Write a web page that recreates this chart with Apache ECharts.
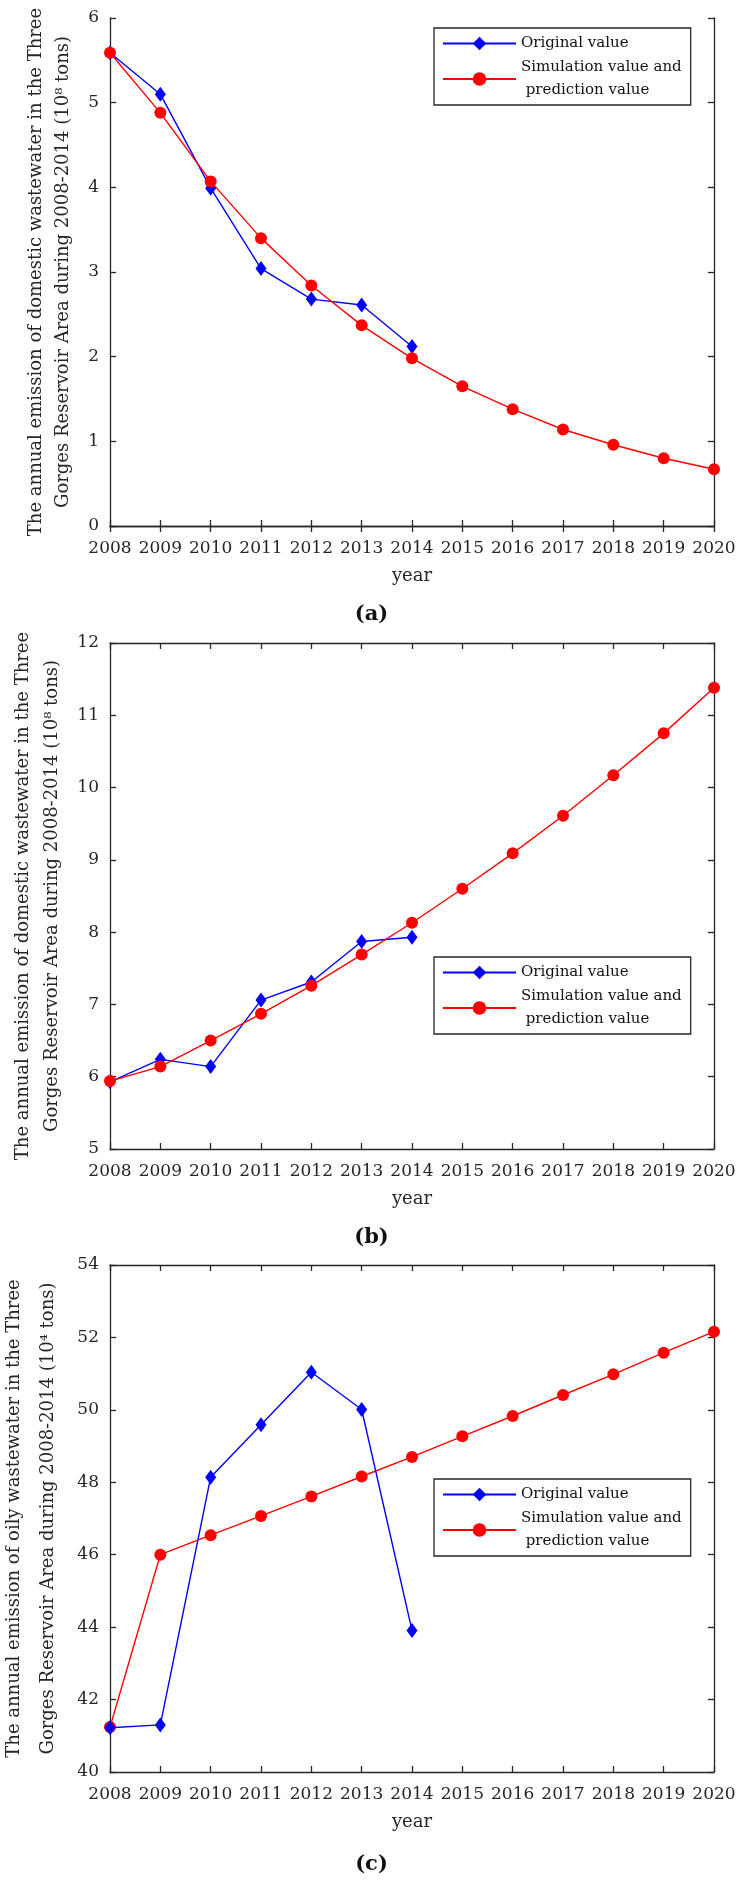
<!DOCTYPE html>
<html><head><meta charset="utf-8">
<script src="https://cdn.jsdelivr.net/npm/echarts@6/dist/echarts.min.js"></script>
<style>html,body{margin:0;padding:0;background:#fff}#c{width:743px;height:1880px}</style>
</head><body><div id="c"></div>
<script>
// ---------- data ----------
const years = [2008, 2009, 2010, 2011, 2012, 2013, 2014, 2015, 2016, 2017, 2018, 2019, 2020];
const originalYears = [2008, 2009, 2010, 2011, 2012, 2013, 2014];

const a_original   = [5.59, 5.10, 3.99, 3.04, 2.68, 2.61, 2.12];
const a_simulation = [5.59, 4.88, 4.07, 3.40, 2.84, 2.37, 1.98, 1.65, 1.38, 1.14, 0.96, 0.80, 0.67];

const b_original   = [5.93, 6.24, 6.14, 7.06, 7.31, 7.87, 7.93];
const b_simulation = [5.94, 6.14, 6.50, 6.87, 7.26, 7.69, 8.13, 8.60, 9.09, 9.61, 10.17, 10.75, 11.38];

const c_original   = [41.22, 41.30, 48.14, 49.59, 51.04, 50.01, 43.91];
const c_simulation = [41.24, 46.00, 46.54, 47.07, 47.61, 48.16, 48.70, 49.27, 49.83, 50.41, 50.98, 51.58, 52.16];

const a_yTicks = [0, 1, 2, 3, 4, 5, 6];
const b_yTicks = [5, 6, 7, 8, 9, 10, 11, 12];
const c_yTicks = [40, 42, 44, 46, 48, 50, 52, 54];

const nameOriginal = 'Original value';
const nameSim = 'Simulation value and prediction value';
const legendSimText = 'Simulation value and\n prediction value';

const a_yName = 'The annual emission of domestic wastewater in the Three\nGorges Reservoir Area during 2008-2014 (10\u2078 tons)';
const b_yName = 'The annual emission of domestic wastewater in the Three\nGorges Reservoir Area during 2008-2014 (10\u2078 tons)';
const c_yName = 'The annual emission of oily wastewater in the Three\nGorges Reservoir Area during 2008-2014 (10\u2074 tons)';
const xName = 'year';
const panelLabels = ['a', 'b', 'c'];

// ---------- layout ----------
const FONT = 'DejaVu Serif';
const AX = '#262626';
const panels = [
  {top: 18,   height: 508, orig: a_original, sim: a_simulation, ticks: a_yTicks, yName: a_yName, nameGap: 30, nameLH: 27, legendTop: 28,   labelTop: 599, simOnTop: true},
  {top: 643,  height: 506, orig: b_original, sim: b_simulation, ticks: b_yTicks, yName: b_yName, nameGap: 36, nameLH: 29, legendTop: 957,  labelTop: 1222, simOnTop: true},
  {top: 1265, height: 507, orig: c_original, sim: c_simulation, ticks: c_yTicks, yName: c_yName, nameGap: 45, nameLH: 34, legendTop: 1479, labelTop: 1849, simOnTop: false}
];

const grid = [], xAxis = [], yAxis = [], series = [], legend = [], title = [];
const lineSt = {color: AX, width: 1.3};

panels.forEach((p, i) => {
  grid.push({left: 110, right: 29, top: p.top, height: p.height, containLabel: false, outerBoundsMode: 'none'});
  const ymin = p.ticks[0], ymax = p.ticks[p.ticks.length - 1], yint = p.ticks[1] - p.ticks[0];
  xAxis.push({
    gridIndex: i, type: 'value', min: years[0], max: years[years.length - 1], interval: 1, position: 'bottom',
    axisLine: {show: true, lineStyle: lineSt},
    axisTick: {show: true, inside: true, length: 6, lineStyle: lineSt},
    axisLabel: {margin: 14, fontSize: 17, fontFamily: FONT, color: AX, formatter: v => String(v)},
    splitLine: {show: false},
    name: xName, nameLocation: 'middle', nameGap: 41,
    nameTextStyle: {fontSize: 18, fontFamily: FONT, color: AX}
  });
  xAxis.push({
    gridIndex: i, type: 'value', min: years[0], max: years[years.length - 1], interval: 1, position: 'top',
    axisLine: {show: true, lineStyle: lineSt},
    axisTick: {show: true, inside: true, length: 6, lineStyle: lineSt},
    axisLabel: {show: false}, splitLine: {show: false}
  });
  yAxis.push({
    gridIndex: i, type: 'value', min: ymin, max: ymax, interval: yint, position: 'left',
    axisLine: {show: true, lineStyle: lineSt},
    axisTick: {show: true, inside: true, length: 6, lineStyle: lineSt},
    axisLabel: {margin: 11, fontSize: 17, fontFamily: FONT, color: AX},
    splitLine: {show: false},
    name: p.yName, nameLocation: 'middle', nameRotate: 90, nameGap: p.nameGap,
    nameTextStyle: {fontSize: 18, lineHeight: p.nameLH, fontFamily: FONT, color: AX, align: 'center'}
  });
  yAxis.push({
    gridIndex: i, type: 'value', min: ymin, max: ymax, interval: yint, position: 'right',
    axisLine: {show: true, lineStyle: lineSt},
    axisTick: {show: true, inside: true, length: 6, lineStyle: lineSt},
    axisLabel: {show: false}, splitLine: {show: false}
  });
  series.push({
    type: 'line', name: nameOriginal, xAxisIndex: 2 * i, yAxisIndex: 2 * i,
    data: originalYears.map((y, k) => [y, p.orig[k]]),
    symbol: 'diamond', symbolSize: [11, 15],
    lineStyle: {color: '#0000FF', width: 1.4},
    itemStyle: {color: '#0000FF'},
    z: p.simOnTop ? 2 : 4, animation: false
  });
  series.push({
    type: 'line', name: nameSim, xAxisIndex: 2 * i, yAxisIndex: 2 * i,
    data: years.map((y, k) => [y, p.sim[k]]),
    symbol: 'circle', symbolSize: 12,
    lineStyle: {color: '#FF0000', width: 1.4},
    itemStyle: {color: '#FF0000'},
    z: p.simOnTop ? 4 : 2, animation: false
  });
  legend.push({
    left: 434, top: p.legendTop, orient: 'vertical',
    data: [nameOriginal, nameSim],
    formatter: n => n === nameSim ? legendSimText : n,
    itemWidth: 73, itemHeight: 17, itemGap: 1,
    padding: [4, 9, 3, 8],
    borderColor: AX, borderWidth: 1.3, backgroundColor: '#fff',
    textStyle: {fontSize: 15, lineHeight: 23, fontFamily: FONT, color: '#111'},
    selectedMode: false
  });
  title.push({
    text: '{p|(}{b|' + panelLabels[i] + '}{p|)}',
    left: 'center', top: p.labelTop,
    textStyle: {rich: {
      p: {fontSize: 21, fontFamily: FONT, color: '#111'},
      b: {fontSize: 21, fontFamily: FONT, fontWeight: 'bold', color: '#111'}
    }}
  });
});

const chart = echarts.init(document.getElementById('c'), null, {renderer: 'canvas'});
chart.setOption({animation: false, backgroundColor: '#fff', grid, xAxis, yAxis, series, legend, title});
</script>
</body></html>
